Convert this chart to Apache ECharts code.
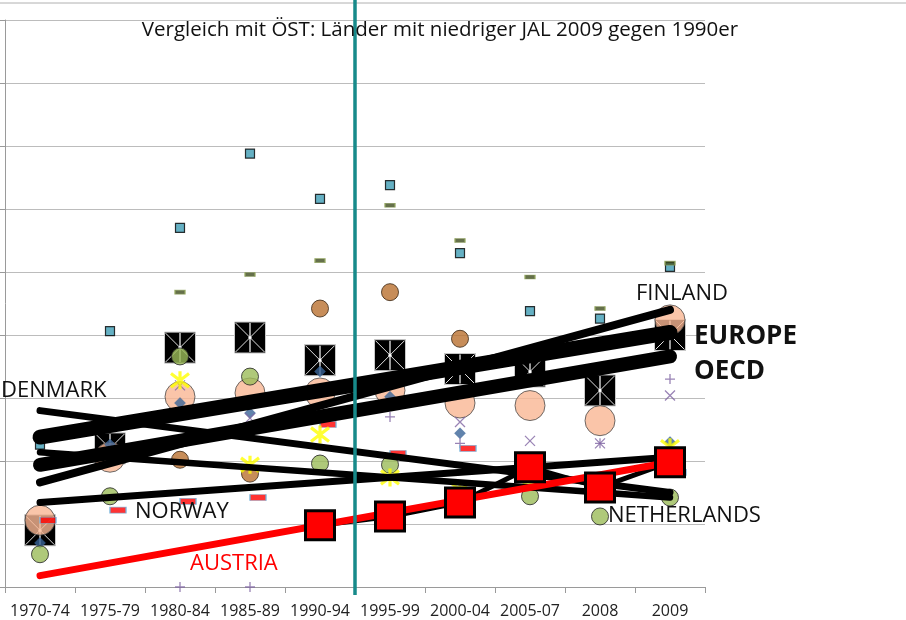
<!DOCTYPE html>
<html>
<head>
<meta charset="utf-8">
<script src="https://cdn.jsdelivr.net/npm/echarts@6/dist/echarts.min.js"></script>
<style>
html,body{margin:0;padding:0;background:#fff;}
#chart{width:906px;height:620px;}
</style>
</head>
<body>
<div id="chart"></div>
<script>
const categories = ['1970-74','1975-79','1980-84','1985-89','1990-94','1995-99','2000-04','2005-07','2008','2009'];

const tealSquares   = [11.3, 20.3, 28.5, 34.4, 30.8, 31.9, 26.5, 21.9, 21.3, 25.4];
const oliveDashes   = [null, null, 23.4, 24.8, 25.9, 30.3, 27.5, 24.6, 22.1, 25.7];
const brownCircles  = [null, null, 10.1, 9.0, 22.1, 23.4, 19.7, null, null, null];
const peachCircles  = [5.3, 10.3, 15.1, 15.4, 15.4, 15.6, 14.6, 14.4, 13.2, 21.2];
const greenCircles  = [2.6, 7.2, 18.3, 16.7, 9.8, 9.7, 6.3, 7.2, 5.6, 7.1];
const europeBoxes   = [4.5, 11.0, 19.0, 19.8, 18.0, 18.4, 17.3, 17.1, 15.6, 20.0];
const austriaSquares= [null, null, null, null, 4.9, 5.6, 6.7, 9.5, 7.9, 9.9];
const redDashes     = [5.3, 6.1, 6.8, 7.1, 12.9, 10.6, 11.0, 9.3, 7.4, 9.1];
const yellowStars   = [null, null, 16.4, 9.7, 12.1, 8.7, 7.7, 8.5, 7.5, 11.1];
const blueDiamonds  = [3.5, 11.3, 14.6, 13.8, 17.1, 15.1, 12.2, 9.9, null, 11.5];
const purplePlus    = [null, null, 0, 0, null, 13.5, 11.4, null, 11.4, 16.5];
const purpleCross   = [null, null, 16.0, 13.4, null, null, 13.1, 11.6, 11.4, 15.2];

// trend lines: [value at 1970-74, value at 2009]
const trendEurope      = [11.9, 20.2];
const trendOECD        = [9.7, 18.3];
const trendFinland     = [8.3, 22.0];
const trendDenmark     = [14.0, 7.5];
const trendNetherlands = [10.7, 7.1];
const trendNorway      = [6.7, 10.3];
const trendAustria     = [0.9, 9.9];

const yTicks = {min: 0, max: 45, interval: 5};

function pairs(arr){
  const out = [];
  arr.forEach((v,i)=>{ if(v!==null && v!==undefined) out.push([i, v]); });
  return out;
}
function trend(arr){
  return [[0, arr[0]], [categories.length-1, arr[1]]];
}
function scatter(arr, symbol, size, style, extra){
  return Object.assign({
    type:'scatter', data: pairs(arr), symbol: symbol, symbolSize: size,
    itemStyle: style, silent:true
  }, extra||{});
}
function trendLine(arr, color, width){
  return {
    type:'line', data: trend(arr), symbol:'none', silent:true,
    lineStyle:{color: color, width: width, cap:'round'}
  };
}

const FONT = '"Open Sans", "Noto Sans", sans-serif';

const chart = echarts.init(document.getElementById('chart'), null, {renderer:'canvas'});

const option = {
  animation:false,
  backgroundColor:'#ffffff',
  grid:{left:5, right:201, top:20, bottom:33},
  xAxis:{
    type:'category', data: categories, boundaryGap:true,
    axisLine:{show:true, lineStyle:{color:'#9a9a9a', width:1}},
    axisTick:{show:true, length:6, interval:0, lineStyle:{color:'#9a9a9a'}},
    axisLabel:{interval:0, fontSize:16, color:'#222', fontFamily:FONT, margin:16},
    splitLine:{show:false}
  },
  yAxis:{
    type:'value', min:yTicks.min, max:yTicks.max, interval:yTicks.interval,
    axisLine:{show:true, lineStyle:{color:'#9a9a9a', width:1}},
    axisTick:{show:true, length:5, lineStyle:{color:'#9a9a9a'}},
    axisLabel:{show:false},
    splitLine:{show:true, lineStyle:{color:'#bcbcbc', width:1}}
  },
  series:[
    scatter(peachCircles, 'circle', 30, {color:'#F9B693', borderColor:'#4a4a4a', borderWidth:1}),
    {
      type:'custom', silent:true, data: pairs(europeBoxes),
      renderItem:function(params, api){
        const p = api.coord([api.value(0), api.value(1)]);
        const s = 31, h = s/2;
        const x0 = p[0]-h, y0 = p[1]-h, x1 = p[0]+h, y1 = p[1]+h;
        return {type:'group', children:[
          {type:'rect', shape:{x:x0, y:y0, width:s, height:s}, style:{fill:'#000', stroke:'#c8c8c8', lineWidth:1}},
          {type:'line', shape:{x1:x0+1, y1:y0+1, x2:x1-1, y2:y1-1}, style:{stroke:'#e0e0e0', lineWidth:1}},
          {type:'line', shape:{x1:x1-1, y1:y0+1, x2:x0+1, y2:y1-1}, style:{stroke:'#e0e0e0', lineWidth:1}},
          {type:'line', shape:{x1:p[0], y1:y0+1, x2:p[0], y2:y1-1}, style:{stroke:'#9a9a9a', lineWidth:2}},
          {type:'circle', shape:{cx:p[0], cy:p[1], r:1.6}, style:{fill:'#fff'}}
        ]};
      }
    },
    {
      type:'line', data: pairs(austriaSquares), silent:true,
      symbol:'rect', symbolSize:29, showAllSymbol:true,
      lineStyle:{color:'#000', width:5},
      itemStyle:{color:'#ff0000', borderColor:'#000', borderWidth:3}
    },
    scatter(tealSquares, 'rect', 9, {color:'#3F9CB4', borderColor:'#000', borderWidth:1.2}),
    scatter(oliveDashes, 'rect', [10,4], {color:'#3f4c1e', borderColor:'#95a85f', borderWidth:1}),
    scatter(brownCircles, 'circle', 17, {color:'#B9712F', borderColor:'#3a2410', borderWidth:1}),
    scatter(blueDiamonds, 'diamond', 11, {color:'#3A6497', borderColor:'#3A6497', borderWidth:0.5}),
    scatter(purplePlus, 'path://M5,0L5,10M0,5L10,5', 10, {color:'rgba(0,0,0,0)', borderColor:'#8064A2', borderWidth:1.3}),
    scatter(purpleCross, 'path://M0,0L10,10M10,0L0,10', 10, {color:'rgba(0,0,0,0)', borderColor:'#8064A2', borderWidth:1.3}),
    scatter(redDashes, 'rect', [16,6], {color:'#ff0000', borderColor:'#74B2DA', borderWidth:1}, {symbolOffset:[8,0]}),
    scatter(greenCircles, 'circle', 17, {color:'#9BBB59', borderColor:'#222', borderWidth:1}),
    scatter(yellowStars, 'path://M0,0L10,10M10,0L0,10M5,-1.5L5,11.5', 18, {color:'rgba(0,0,0,0)', borderColor:'#ffff00', borderWidth:3.2}),
    trendLine(trendDenmark, '#000', 7),
    trendLine(trendNetherlands, '#000', 6.5),
    trendLine(trendNorway, '#000', 7),
    trendLine(trendFinland, '#000', 8),
    trendLine(trendOECD, '#000', 14),
    trendLine(trendEurope, '#000', 15),
    trendLine(trendAustria, '#ff0000', 7)
  ]
};
chart.setOption(option);

// vertical divider between 1990-94 and 1995-99, from the axis scale
const xa = chart.convertToPixel({xAxisIndex:0}, 4);
const xb = chart.convertToPixel({xAxisIndex:0}, 5);
const xDiv = (xa + xb) / 2;

function label(text, x, y, opts){
  return {type:'text', x:x, y:y, z:100, silent:true, style:Object.assign({
    text:text, fontFamily:FONT, fontSize:22, fill:'#111', textAlign:'left', textVerticalAlign:'middle'
  }, opts||{})};
}

chart.setOption({
  graphic:[
    {type:'line', z:100, silent:true, shape:{x1:0, y1:3, x2:906, y2:3}, style:{stroke:'#b0b0b0', lineWidth:1}},
    {type:'line', z:100, silent:true, shape:{x1:xDiv, y1:0, x2:xDiv, y2:595}, style:{stroke:'#178a8a', lineWidth:3.5}},
    label('Vergleich mit ÖST: Länder mit niedriger JAL 2009 gegen 1990er', 440, 30, {fontSize:20.5, textAlign:'center'}),
    label('DENMARK', 1, 391),
    label('NORWAY', 135, 512),
    label('AUSTRIA', 190, 564, {fill:'#ff0000'}),
    label('FINLAND', 636, 294),
    label('EUROPE', 694, 337, {fontSize:26, fontWeight:'bold'}),
    label('OECD', 694, 372, {fontSize:26, fontWeight:'bold'}),
    label('NETHERLANDS', 608, 516)
  ]
});
</script>
</body>
</html>
